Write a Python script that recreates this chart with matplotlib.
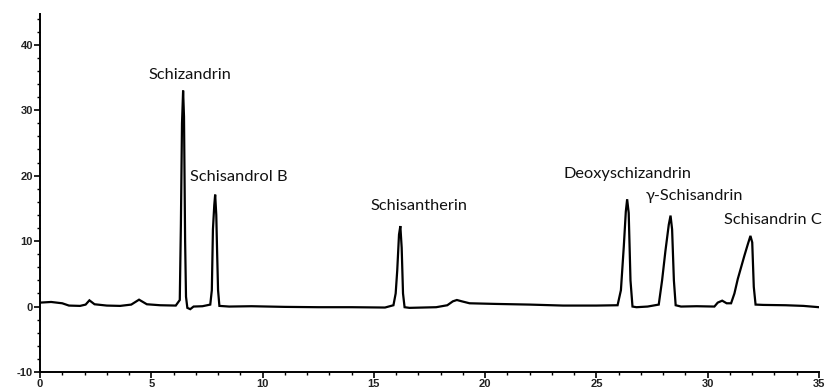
import matplotlib
matplotlib.use("Agg")
import matplotlib.pyplot as plt
from matplotlib.ticker import MultipleLocator

plt.rcParams["axes.unicode_minus"] = False

# Retention time (min) and detector signal
time = [0, 0.5, 1.0, 1.3, 1.8, 2.05, 2.22, 2.45, 3.0, 3.6, 4.1, 4.45, 4.8, 5.4,
        6.1, 6.28, 6.33, 6.38, 6.43, 6.47, 6.52, 6.56, 6.62, 6.75, 6.9, 7.3,
        7.65, 7.72, 7.77, 7.83, 7.87, 7.92, 7.96, 8.0, 8.06, 8.5, 9.5, 11, 12.5,
        14, 15.5, 15.88, 15.98, 16.05, 16.13, 16.19, 16.25, 16.31, 16.38, 16.6,
        17.2, 17.8, 18.3, 18.55, 18.73, 18.95, 19.3, 20.5, 22, 23.5, 25, 25.95,
        26.1, 26.23, 26.32, 26.38, 26.45, 26.53, 26.62, 26.8, 27.3, 27.8, 27.95,
        28.1, 28.25, 28.33, 28.4, 28.48, 28.56, 28.8, 29.5, 30.3, 30.45, 30.65,
        30.85, 31.05, 31.2, 31.35, 31.5, 31.65, 31.8, 31.92, 32.0, 32.07, 32.15,
        32.5, 33.5, 34.3, 35]
signal = [0.6, 0.7, 0.5, 0.15, 0.1, 0.3, 0.95, 0.35, 0.15, 0.1, 0.3, 1.05, 0.35, 0.2,
          0.15, 1.0, 12.5, 28, 33.0, 29, 10, 1.5, -0.2, -0.4, 0.0, 0.05,
          0.3, 2.5, 11.8, 15.5, 17.1, 14, 8, 2.5, 0.1, 0.0, 0.05, -0.05, -0.1,
          -0.1, -0.15, 0.2, 2.0, 5.5, 11, 12.3, 9, 2, -0.1, -0.2,
          -0.15, -0.1, 0.2, 0.8, 1.0, 0.8, 0.5, 0.4, 0.3, 0.15, 0.15, 0.2,
          2.5, 9.2, 14.5, 16.4, 14.3, 4, 0.0, -0.1, 0.0, 0.3, 4,
          8.5, 12.5, 13.9, 11.8, 4, 0.2, 0.0, 0.05, 0.0, 0.6, 0.9,
          0.5, 0.5, 2.0, 4.2, 6.0, 7.8, 9.5, 10.8, 9.8, 3, 0.3,
          0.25, 0.2, 0.1, -0.1]

peak_names = ["Schizandrin", "Schisandrol B", "Schisantherin",
              "Deoxyschizandrin", "\u03b3-Schisandrin", "Schisandrin C"]
label_x = [4.86, 6.74, 14.87, 23.53, 27.2, 30.72]
label_y = [35.4, 19.8, 15.4, 20.3, 16.9, 13.3]

xticks = [0, 5, 10, 15, 20, 25, 30, 35]
yticks = [-10, 0, 10, 20, 30, 40]

fig = plt.figure(figsize=(8.25, 3.89), dpi=100)
ax = fig.add_axes([40 / 825, 17 / 389, 779 / 825, 358 / 389])

ax.plot(time, signal, color="black", lw=1.6, solid_joinstyle="miter")

for name, lx, ly in zip(peak_names, label_x, label_y):
    ax.text(lx, ly, name, ha="left", va="center", fontsize=11.8,
            family=["Lato", "DejaVu Sans"], color="#111111", clip_on=False)

ax.set_xlim(0, 35)
ax.set_ylim(-10, 44.7)
ax.set_xticks(xticks)
ax.set_yticks(yticks)
ax.xaxis.set_minor_locator(MultipleLocator(1))
ax.yaxis.set_minor_locator(MultipleLocator(2))
ax.spines["top"].set_visible(False)
ax.spines["right"].set_visible(False)
for s in ("left", "bottom"):
    ax.spines[s].set_linewidth(1.4)
ax.tick_params(which="major", direction="out", length=4, width=1.2,
               labelsize=8, pad=1)
ax.tick_params(which="minor", direction="out", length=2.5, width=1.0)
for lab in ax.get_xticklabels() + ax.get_yticklabels():
    lab.set_family("Liberation Sans")
    lab.set_fontweight("bold")
    lab.set_color("#222222")

fig.savefig("out.png", dpi=100)
